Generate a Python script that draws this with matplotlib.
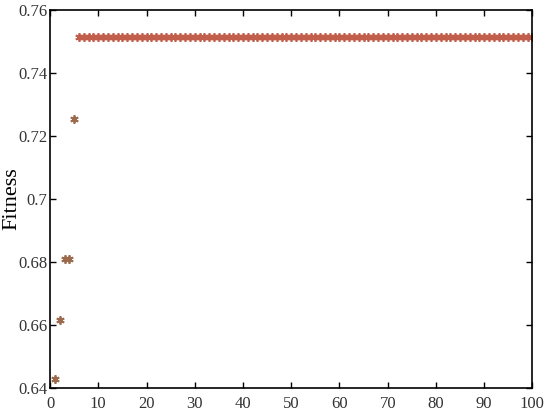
import numpy as np
import matplotlib
matplotlib.use('Agg')
import matplotlib.pyplot as plt

plt.rcParams['font.family'] = 'Liberation Serif'

# fitness per iteration
iters = np.arange(1, 101)
early = [0.643, 0.6615, 0.681, 0.681, 0.7255]
fitness = np.array(early + [0.7515] * (len(iters) - len(early)))

fig = plt.figure(figsize=(5.5, 4.19), dpi=100)
ax = fig.add_axes([0.091, 0.074, 0.877, 0.902])

star = (6, 2, 0)  # matlab-like asterisk
ax.plot(iters[:5], fitness[:5], linestyle='none', marker=star, color='#9c6a4c',
        markersize=6, markeredgewidth=1.3)
ax.plot(iters[5:], fitness[5:], linestyle='none', marker=star, color='#c25e4c',
        markersize=6, markeredgewidth=1.3)

ax.set_xlim(0, 100)
ax.set_ylim(0.64, 0.76)
ax.set_xticks(np.arange(0, 101, 10))
ax.set_yticks([0.64, 0.66, 0.68, 0.70, 0.72, 0.74, 0.76])
ax.set_yticklabels(['0.64', '0.66', '0.68', '0.7', '0.72', '0.74', '0.76'])
ax.tick_params(direction='in', top=True, right=True, labelsize=12, length=4,
               width=1, labelcolor='#333333')
ax.tick_params(axis='x', pad=6)
ax.tick_params(axis='y', pad=2)
for s in ax.spines.values():
    s.set_linewidth(1.2)
ax.set_ylabel('Fitness', fontsize=16)
ax.yaxis.set_label_coords(-0.06, 0.5)

fig.savefig('out.png', dpi=100)
